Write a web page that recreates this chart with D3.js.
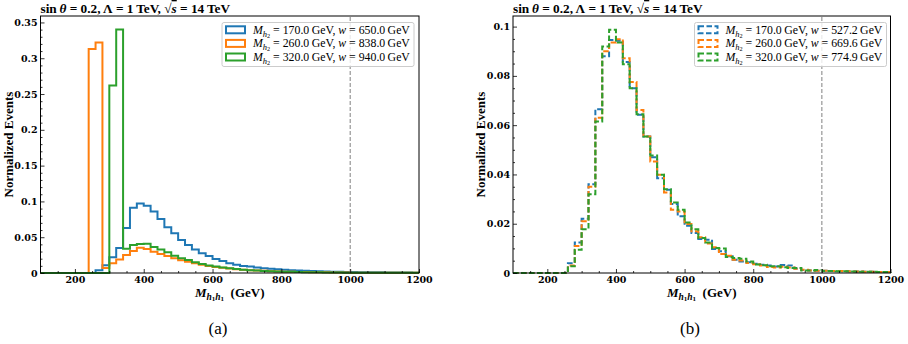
<!DOCTYPE html>
<html><head><meta charset="utf-8">
<script src="https://cdn.jsdelivr.net/npm/d3@7"></script>
<style>body{margin:0;background:#fff} svg{display:block}</style>
</head><body>
<svg id="c" width="908" height="344"></svg>
<script>
// ---------- data ----------
const binEdges = d3.range(100, 1201, 20); // 56 edges, 55 bins
const xTickValues = [200, 400, 600, 800, 1000, 1200];
const xTickLabels = ["200", "400", "600", "800", "1000", "1200"];
const yTicksA = [0, 0.05, 0.1, 0.15, 0.2, 0.25, 0.3, 0.35];
const yTickLabelsA = ["0", "0.05", "0.1", "0.15", "0.2", "0.25", "0.3", "0.35"];
const yTicksB = [0, 0.02, 0.04, 0.06, 0.08, 0.1];
const yTickLabelsB = ["0", "0.02", "0.04", "0.06", "0.08", "0.1"];
const massesH2 = ["170.0", "260.0", "320.0"];
const widthsA = ["650.0", "838.0", "940.0"];
const widthsB = ["527.2", "669.6", "774.9"];
const cutLine = 1000;

const blueA = [0,0,0,0,0,0,0,0,
  0.004,0.011,0.022,0.035,0.063,0.091,0.097,0.094,0.086,0.0755,
  0.064,0.0555,0.046,0.039,0.033,0.0275,0.0237,0.0196,0.0168,0.0135,
  0.0115,0.0098,0.009,0.0078,0.0068,0.0059,0.0051,0.0045,0.004,0.0035,
  0.0031,0.0027,0.0024,0.0021,0.0019,0.0017,0.0015,0.0013,0.0012,0.0011,
  0.001,0.0009,0.0008,0.0007,0.0007,0.0006,0.0005];
const orangeA = [0,0,0,0,0,0,0,
  0.313,0.322,0.007,
  0.0135,0.019,0.025,0.0307,0.0354,0.0335,0.0298,0.0265,0.0237,0.0205,
  0.0177,0.0158,0.0135,0.0115,0.0098,0.0084,0.0073,0.0063,0.0054,0.0046,
  0.004,0.0034,0.003,0.0026,0.0022,0.0019,0.0017,0.0015,0.0013,0.0011,
  0.001,0.0009,0.0008,0.0007,0.0006,0.0005,0.0005,0.0004,0.0004,0.0003,
  0.0003,0.0003,0.0002,0.0002,0.0002];
const greenA = [0,0,0,0,0,0,0,0,0,0,
  0.262,0.340,0.034,0.039,0.0405,0.0408,0.0363,0.033,0.029,0.0242,
  0.0205,0.0182,0.015,0.0127,0.0105,0.009,0.0078,0.0066,0.0056,0.0047,
  0.004,0.0034,0.0029,0.0025,0.0021,0.0018,0.0016,0.0014,0.0012,0.001,
  0.0009,0.0008,0.0007,0.0006,0.0005,0.0005,0.0004,0.0004,0.0003,0.0003,
  0.0003,0.0002,0.0002,0.0002,0.0002];

const blueB = [0,0,0,0,0,0,0,0,
  0.004,0.0124,
  0.022,0.036,0.0665,0.088,0.0946,0.0943,0.0856,0.075,0.0642,0.0554,
  0.047,0.0385,0.0338,0.028,0.023,0.0192,0.0162,0.0138,0.0135,0.0097,
  0.0088,0.0068,0.0054,0.0047,0.0044,0.0038,0.0033,0.003,0.0026,0.0032,
  0.003,0.0018,0.0012,0.001,0.0009,0.0009,0.0008,0.0007,0.0007,0.0006,
  0.0006,0.0005,0.0005,0.0004,0.0004];
const orangeB = [0,0,0,0,0,0,0,0,
  0.003,0.011,
  0.021,0.035,0.063,0.090,0.0935,0.0949,0.0872,0.0775,0.0662,0.0554,
  0.0453,0.0399,0.0327,0.0257,0.025,0.0199,0.0169,0.0145,0.012,0.0105,
  0.0077,0.007,0.0054,0.0051,0.0041,0.0036,0.003,0.0024,0.0022,0.0025,
  0.0022,0.0017,0.0013,0.001,0.0009,0.0009,0.0008,0.0008,0.0007,0.0006,
  0.0006,0.0005,0.0005,0.0004,0.0004];
const greenB = [0,0,0,0,0,0,0,0,
  0.0027,0.0094,
  0.0178,0.032,0.0615,0.0919,0.0987,0.0935,0.0847,0.075,0.0644,0.0554,
  0.0477,0.0399,0.034,0.0286,0.0257,0.0205,0.0178,0.0142,0.0124,0.0101,
  0.0099,0.0065,0.0061,0.0058,0.0047,0.0034,0.0031,0.0027,0.0027,0.0023,
  0.002,0.002,0.001,0.001,0.0012,0.0008,0.0008,0.0007,0.0007,0.0006,
  0.0005,0.0005,0.0005,0.0004,0.0004];

const colors = ["#1f77b4", "#ff7f0e", "#2ca02c"];

// ---------- drawing ----------
const svg = d3.select("#c");
const SERIF = "'Liberation Serif', 'DejaVu Serif', serif";
const TICKFONT = "'DejaVu Serif', serif";

function addMathLegendText(sel, mass, w) {
  sel.append("tspan").attr("font-style", "italic").text("M");
  sel.append("tspan").attr("font-style", "italic").attr("font-size", "8.5px").attr("dy", 2.7).text("h");
  sel.append("tspan").attr("font-size", "6.2px").attr("dy", 1.3).text("2");
  sel.append("tspan").attr("dy", -4).text(" = " + mass + "\u2009GeV, ");
  sel.append("tspan").attr("font-style", "italic").text("w");
  sel.append("tspan").text(" = " + w + "\u2009GeV");
}

function drawPanel(cfg) {
  const x = d3.scaleLinear().domain([100, 1200]).range([cfg.x0, cfg.x1]);
  const y = d3.scaleLinear().domain([0, cfg.yMax]).range([cfg.yb, cfg.yt]);
  const g = svg.append("g");

  // histograms
  const line = d3.line().x(d => x(d[0])).y(d => y(d[1]));
  cfg.series.forEach((vals, i) => {
    const pts = [[binEdges[0], 0]];
    vals.forEach((v, k) => { pts.push([binEdges[k], v]); pts.push([binEdges[k + 1], v]); });
    pts.push([binEdges[binEdges.length - 1], 0]);
    g.append("path").attr("d", line(pts)).attr("fill", "none")
      .attr("stroke", colors[i]).attr("stroke-width", 2)
      .attr("stroke-linejoin", "miter")
      .attr("stroke-dasharray", cfg.dashed ? "5.5,2.5" : null);
  });

  // cut line
  g.append("line").attr("x1", x(cutLine)).attr("x2", x(cutLine))
    .attr("y1", y(0)).attr("y2", cfg.yt)
    .attr("stroke", "#808080").attr("stroke-width", 1).attr("stroke-dasharray", "4,2");

  // axes
  const xAxis = d3.axisBottom(x).tickValues(xTickValues)
    .tickFormat((d, i) => xTickLabels[i]).tickSizeInner(-4).tickSizeOuter(0).tickPadding(3);
  const gx = g.append("g").attr("transform", `translate(0,${cfg.yb})`).call(xAxis);
  const xMinor = d3.axisBottom(x).tickValues(d3.range(150, 1200, 50).filter(v => v % 200 !== 0))
    .tickFormat("").tickSizeInner(-2).tickSizeOuter(0);
  const gxm = g.append("g").attr("transform", `translate(0,${cfg.yb})`).call(xMinor);

  const yAxis = d3.axisLeft(y).tickValues(cfg.yTicks)
    .tickFormat((d, i) => cfg.yLabels[i]).tickSizeInner(-4).tickSizeOuter(0).tickPadding(3);
  const gy = g.append("g").attr("transform", `translate(${cfg.x0},0)`).call(yAxis);
  const yMinor = d3.axisLeft(y).tickValues(cfg.yMinor).tickFormat("").tickSizeInner(-2).tickSizeOuter(0);
  const gym = g.append("g").attr("transform", `translate(${cfg.x0},0)`).call(yMinor);

  [gx, gxm, gy, gym].forEach(a => {
    a.select(".domain").remove();
    a.selectAll("line").attr("stroke", "#000").attr("stroke-width", 0.8);
    a.selectAll("text").attr("font-family", TICKFONT).attr("font-weight", "bold")
      .attr("font-size", "9.5px").attr("fill", "#000");
  });

  // frame
  g.append("rect").attr("x", cfg.x0).attr("y", cfg.yt)
    .attr("width", cfg.x1 - cfg.x0).attr("height", cfg.yb - cfg.yt)
    .attr("fill", "none").attr("stroke", "#000").attr("stroke-width", 1);

  // title
  const t = g.append("text").attr("x", cfg.x0).attr("y", cfg.yt - 3)
    .attr("font-family", SERIF).attr("font-weight", "bold").attr("font-size", "13.3px");
  t.append("tspan").text("sin\u2009");
  t.append("tspan").attr("font-style", "italic").text("\u03b8");
  t.append("tspan").text(" = 0.2, \u039b = 1\u2009TeV, \u221a");
  t.append("tspan").attr("font-style", "italic").attr("text-decoration", "overline").text("s");
  t.append("tspan").text(" = 14\u2009TeV");

  // y label
  g.append("text")
    .attr("transform", `translate(${cfg.x0 - 28},${(cfg.yt + cfg.yb) / 2}) rotate(-90)`)
    .attr("text-anchor", "middle")
    .attr("font-family", SERIF).attr("font-weight", "bold").attr("font-size", "13px")
    .text("Normalized Events");

  // x label
  const xl = g.append("text").attr("x", (cfg.x0 + cfg.x1) / 2).attr("y", cfg.yb + 24)
    .attr("text-anchor", "middle")
    .attr("font-family", SERIF).attr("font-weight", "bold").attr("font-size", "13px");
  xl.append("tspan").attr("font-style", "italic").text("M");
  xl.append("tspan").attr("font-style", "italic").attr("font-size", "9.5px").attr("dy", 3).text("h");
  xl.append("tspan").attr("font-size", "7px").attr("dy", 1.2).text("1");
  xl.append("tspan").attr("font-style", "italic").attr("font-size", "9.5px").attr("dy", -1.2).text("h");
  xl.append("tspan").attr("font-size", "7px").attr("dy", 1.2).text("1");
  xl.append("tspan").attr("dy", -4.2).text("\u2002(GeV)");

  // caption
  g.append("text").attr("x", cfg.capX).attr("y", 334).attr("text-anchor", "middle")
    .attr("font-family", SERIF).attr("font-size", "17px").text(cfg.caption);

  // legend
  const lg = g.append("g");
  lg.append("rect").attr("x", cfg.lx).attr("y", 22.5).attr("width", cfg.lw).attr("height", 44)
    .attr("rx", 2).attr("fill", "#fff").attr("fill-opacity", 0.8)
    .attr("stroke", "#cccccc").attr("stroke-width", 1);
  cfg.widths.forEach((w, i) => {
    const cy = 29.8 + i * 13.6;
    lg.append("rect").attr("x", cfg.lx + 4).attr("y", cy - 3.5).attr("width", 19).attr("height", 7)
      .attr("fill", "none").attr("stroke", colors[i]).attr("stroke-width", 2)
      .attr("stroke-dasharray", cfg.dashed ? "5.5,2.5" : null);
    const tx = lg.append("text").attr("x", cfg.lx + 31).attr("y", cy + 4)
      .attr("font-family", SERIF).attr("font-size", "11.8px");
    addMathLegendText(tx, massesH2[i], w);
  });
}

drawPanel({
  x0: 40.5, x1: 419, yt: 16, yb: 273, yMax: 0.359,
  yTicks: yTicksA, yLabels: yTickLabelsA, yMinor: d3.range(1, 36).filter(k => k % 5 !== 0).map(k => k / 100),
  series: [blueA, orangeA, greenA], dashed: false,
  widths: widthsA, lx: 222, lw: 192, caption: "(a)", capX: 218
});
drawPanel({
  x0: 513, x1: 890.5, yt: 16, yb: 273, yMax: 0.1043,
  yTicks: yTicksB, yLabels: yTickLabelsB, yMinor: d3.range(1, 21).filter(k => k % 4 !== 0).map(k => k / 200),
  series: [blueB, orangeB, greenB], dashed: true,
  widths: widthsB, lx: 694.5, lw: 192, caption: "(b)", capX: 690
});
</script>
</body></html>
